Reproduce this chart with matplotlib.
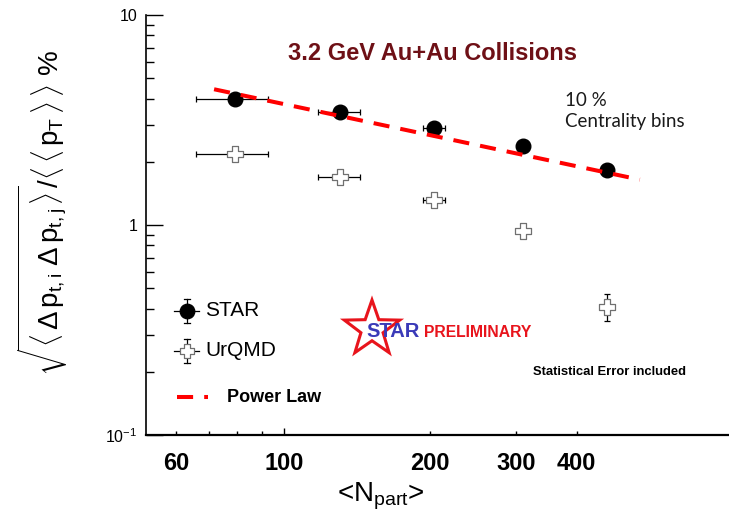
import numpy as np
import matplotlib
matplotlib.use("Agg")
import matplotlib.pyplot as plt
from matplotlib.path import Path
from matplotlib.patches import Polygon
from matplotlib.lines import Line2D

plt.rcParams["font.family"] = ["Liberation Sans", "DejaVu Sans"]
plt.rcParams["mathtext.fontset"] = "custom"
plt.rcParams["mathtext.rm"] = "Liberation Sans"
plt.rcParams["mathtext.it"] = "Liberation Sans"
plt.rcParams["mathtext.bf"] = "Liberation Sans:bold"

# ---- data -------------------------------------------------------------
npart = [79.2, 130.4, 203.9, 310.8, 462.8]
npart_err = [13.4, 13.0, 11.0, 0.0, 0.0]

star_vals = [3.97, 3.44, 2.89, 2.39, 1.82]
star_err = [0.05, 0.05, 0.04, 0.04, 0.03]

urqmd_vals = [2.19, 1.69, 1.31, 0.94, 0.408]
urqmd_err_lo = [0.0, 0.0, 0.0, 0.0, 0.058]
urqmd_err_hi = [0.0, 0.0, 0.0, 0.0, 0.061]

# power-law fit drawn between its two end points (straight in log-log)
fit_npart = [71.8, 540.0]
fit_vals = [4.43, 1.644]

xtick_vals = [60, 100, 200, 300, 400]
xtick_labels = ["60", "100", "200", "300", "400"]
xminor_vals = [70, 80, 90]
ytick_vals = [0.1, 1, 10]
ytick_labels = [r"$10^{-1}$", "1", "10"]

# ---- figure -----------------------------------------------------------
W, H = 729, 514
fig = plt.figure(figsize=(W / 100, H / 100), dpi=100)
ax = fig.add_axes([146 / W, 1 - 435 / H, (W - 146) / W, (435 - 15) / H])
ax.set_xscale("log")
ax.set_yscale("log")
ax.set_xlim(52.0, 824.0)
ax.set_ylim(0.1, 10)

for s in ("top", "right"):
    ax.spines[s].set_visible(False)
ax.spines["bottom"].set_linewidth(1.6)
ax.spines["left"].set_linewidth(1.2)

# open-cross marker
a = 0.2
cross = Path([(-a, 0.5), (a, 0.5), (a, a), (0.5, a), (0.5, -a), (a, -a),
              (a, -0.5), (-a, -0.5), (-a, -a), (-0.5, -a), (-0.5, a),
              (-a, a), (-a, 0.5)], closed=True)

ax.errorbar(npart, urqmd_vals, xerr=npart_err,
            yerr=[urqmd_err_lo, urqmd_err_hi], fmt="none",
            ecolor="black", elinewidth=0.9, capsize=2, capthick=0.9, zorder=2)
ax.plot(npart, urqmd_vals, linestyle="none", marker=cross, markersize=11,
        markerfacecolor="white", markeredgecolor="#707070",
        markeredgewidth=0.9, zorder=3)

ax.errorbar(npart, star_vals, xerr=npart_err, yerr=star_err, fmt="none",
            ecolor="black", elinewidth=0.9, capsize=2, capthick=0.9, zorder=2)
ax.plot(npart, star_vals, linestyle="none", marker="o", markersize=10.5,
        markerfacecolor="black", markeredgecolor="black", zorder=3)

ax.plot(fit_npart, fit_vals, color="#ff0000", linewidth=2.9,
        dashes=(4, 2.75), solid_capstyle="butt", dash_capstyle="butt",
        zorder=4)

# ticks
ax.set_xticks(xtick_vals)
ax.set_xticklabels(xtick_labels)
ax.set_xticks(xminor_vals, minor=True)
ax.set_xticklabels([], minor=True)
ax.set_yticks(ytick_vals)
ax.set_yticklabels(ytick_labels)
ax.tick_params(axis="x", which="major", direction="in", length=5, width=1,
               pad=12, labelsize=17)
ax.tick_params(axis="x", which="minor", direction="in", length=3, width=1)
ax.tick_params(axis="y", which="major", direction="in", length=12, width=1,
               pad=6, labelsize=11.5)
ax.tick_params(axis="y", which="minor", direction="in", length=6, width=1)
for lab in ax.get_xticklabels():
    lab.set_fontfamily(["Liberation Sans Narrow", "Liberation Sans"])
    lab.set_fontweight("bold")
# 200, 300, 400 ticks are short
for t, v in zip(ax.xaxis.get_major_ticks(), xtick_vals):
    if v != 100:
        t.tick1line.set_markersize(3)


def fx(px):
    return px / W


def fy(py):
    return 1 - py / H


# axis titles
fig.text(fx(381), fy(501.7), r"<N$_{\mathrm{part}}$>", fontsize=20,
         ha="center", va="baseline")
fig.text(fx(43), fy(213),
         r"$\sqrt{\langle\,\Delta\,\mathrm{p}_{\mathrm{t,i}}\ \Delta\,\mathrm{p}_{\mathrm{t,j}}\,\rangle}"
         r"/\langle\,\langle\,\mathrm{p}_{\mathrm{T}}\,\rangle\,\rangle\ \%$",
         fontsize=20, rotation=90, ha="center", va="center")

# annotations
fig.text(fx(288), fy(53), "3.2 GeV Au+Au Collisions", fontsize=17,
         fontweight="bold", color="#6e1016", ha="left", va="center")
fig.text(fx(565), fy(100), "10 %", fontsize=13.5, family=["Lato", "DejaVu Sans"],
         color="#1a1a1a", ha="left", va="center")
fig.text(fx(565), fy(121.5), "Centrality bins", fontsize=13.5,
         family=["Lato", "DejaVu Sans"], color="#1a1a1a", ha="left", va="center")
fig.text(fx(533), fy(372), "Statistical Error included", fontsize=9.4,
         fontweight="bold", ha="left", va="center")

# legend (hand placed)
lx = 186.7
for py, marker, fc, ec in ((311, "o", "black", "black"),
                           (351, cross, "white", "#707070")):
    fig.add_artist(Line2D([fx(lx - 12.5), fx(lx + 12.5)], [fy(py), fy(py)],
                          color="black", lw=0.9, transform=fig.transFigure))
    fig.add_artist(Line2D([fx(lx), fx(lx)], [fy(py - 12), fy(py + 12)],
                          color="black", lw=0.9, transform=fig.transFigure))
    for cy in (py - 12, py + 12):
        fig.add_artist(Line2D([fx(lx - 3), fx(lx + 3)], [fy(cy), fy(cy)],
                              color="black", lw=0.9, transform=fig.transFigure))
    fig.add_artist(Line2D([fx(lx)], [fy(py)], marker=marker, markersize=10.5,
                          markerfacecolor=fc, markeredgecolor=ec,
                          markeredgewidth=0.9, linestyle="none",
                          transform=fig.transFigure))
fig.text(fx(205), fy(311), "STAR", fontsize=15, ha="left", va="center")
fig.text(fx(205), fy(350), "UrQMD", fontsize=15, ha="left", va="center")
fig.add_artist(Line2D([fx(177), fx(208)], [fy(397), fy(397)], color="#ff0000",
                      lw=2.9, dashes=(4, 2.75), dash_capstyle="butt",
                      transform=fig.transFigure))
fig.text(fx(227), fy(397), "Power Law", fontsize=13, fontweight="bold",
         ha="left", va="center")

# STAR PRELIMINARY stamp
cx, cy, R = 372, 329.1, 29.1
r = R * 0.40
ang = np.deg2rad(90 + np.arange(10) * 36)
rad = np.where(np.arange(10) % 2 == 0, R, r)
verts = [(fx(cx + rr * np.cos(t)), fy(cy - rr * np.sin(t))) for rr, t in zip(rad, ang)]
fig.add_artist(Polygon(verts, closed=True, fill=False, edgecolor="#e8141c",
                       linewidth=2.2, transform=fig.transFigure))
fig.text(fx(366), fy(336.7), "STAR", fontsize=14.5, fontweight="bold",
         color="#3a3ab8", ha="left", va="baseline")
fig.text(fx(424), fy(336.7), "PRELIMINARY", fontsize=11.3, fontweight="bold",
         color="#e8141c", ha="left", va="baseline")

fig.savefig("out.png", dpi=100)
